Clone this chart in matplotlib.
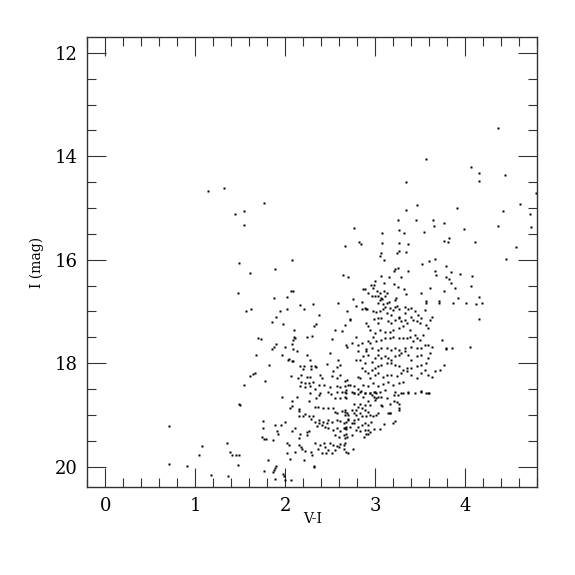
import numpy as np
import matplotlib
matplotlib.use("Agg")
import matplotlib.pyplot as plt
from matplotlib.ticker import MultipleLocator

vi_left = [1.32, 1.14, 1.54, 1.44, 1.545, 1.49, 1.48, 1.56, 1.54, 1.49, 1.50, 0.71, 1.07, 1.35,
           1.385, 1.41, 1.45, 1.49, 1.04, 0.71, 0.91, 1.48, 1.17, 1.36, 1.76]
i_left = [14.61, 14.68, 15.05, 15.11, 15.32, 16.07, 16.65, 16.99, 18.42, 18.78, 18.80, 19.21, 19.60, 19.55,
          19.72, 19.78, 19.78, 19.77, 19.78, 19.95, 19.99, 19.96, 20.16, 20.19, 14.91]

vi_mid_top = [2.67, 2.08, 1.61, 1.89, 2.64, 2.70, 2.06, 2.09, 1.87, 2.02, 2.31, 2.59, 2.16, 2.21, 1.62, 2.02]
i_mid_top = [15.73, 16.01, 16.25, 16.18, 16.29, 16.34, 16.60, 16.60, 16.74, 16.72, 16.86, 16.83, 16.88, 16.95, 16.95, 16.96]

vi_mid = [1.94, 2.37, 1.90, 1.85, 1.97, 2.34, 2.32, 2.69, 2.72, 2.67, 2.10, 2.55, 2.63, 2.10, 2.11, 2.24, 2.30,
          2.09, 2.52, 1.70, 1.73, 1.90, 1.88, 1.85, 2.00, 2.07, 2.09, 2.13, 1.96, 1.68, 2.24, 2.50, 2.04, 2.03,
          2.09, 2.07, 2.27, 2.69, 2.59, 1.82, 2.16, 2.21, 2.29, 2.33, 2.46, 2.58, 2.61, 2.29, 2.34, 2.20, 1.64,
          1.66, 1.61, 1.78, 2.06, 2.17, 2.14, 2.24, 2.27, 2.39, 2.41, 2.52, 2.53, 2.57, 2.61, 2.67, 2.69, 2.18,
          2.22, 2.26, 2.31, 2.37, 2.43, 2.22, 2.27, 2.33, 2.16, 2.50, 2.57, 2.61, 2.66, 2.70, 2.39, 2.48, 2.51,
          2.27, 2.57, 2.63, 2.68, 2.67]
i_mid = [17.00, 17.07, 17.11, 17.20, 17.24, 17.24, 17.28, 16.99, 17.16, 17.26, 17.36, 17.36, 17.38, 17.49, 17.51,
         17.49, 17.47, 17.55, 17.53, 17.52, 17.54, 17.63, 17.69, 17.73, 17.68, 17.63, 17.73, 17.76, 17.84, 17.85,
         17.84, 17.81, 17.91, 17.93, 17.96, 17.96, 17.93, 17.68, 17.94, 18.03, 18.05, 18.05, 18.05, 18.05, 18.02,
         18.07, 18.04, 18.11, 18.08, 18.12, 18.20, 18.18, 18.24, 18.34, 18.24, 18.23, 18.29, 18.26, 18.27, 18.23,
         18.28, 18.25, 18.16, 18.29, 18.23, 18.34, 18.32, 18.36, 18.39, 18.39, 18.37, 18.42, 18.42, 18.47, 18.45,
         18.49, 18.44, 18.47, 18.45, 18.47, 18.45, 18.42, 18.58, 18.56, 18.60, 18.57, 18.56, 18.56, 18.52, 18.56]

vi_low = [1.96, 2.13, 2.08, 2.08, 2.05, 2.15, 2.15, 2.26, 2.37, 2.34, 2.61, 2.55, 2.66, 2.33, 2.36, 2.42, 2.48,
          2.53, 2.55, 2.57, 2.63, 2.66, 2.66, 2.69, 2.22, 2.20, 2.26, 2.29, 2.31, 2.15, 2.33, 2.37, 2.38, 2.42,
          2.47, 2.52, 2.46, 2.57, 2.61, 2.65, 2.68, 2.70, 2.00, 1.95, 1.89, 1.75, 1.75, 1.91, 1.92, 2.11, 2.07,
          2.16, 2.24, 2.35, 2.41, 2.44, 2.48, 2.53, 2.57, 2.61, 2.65, 2.68, 2.55, 2.60, 2.65, 2.69, 2.15, 2.24,
          2.26, 1.74, 1.76, 1.79, 1.86, 2.02, 2.04, 2.15, 2.18, 2.33, 2.39, 2.43, 2.44, 2.50, 2.53, 2.57, 2.61,
          2.65, 2.19, 2.22, 2.29, 2.30, 2.36, 2.41, 2.45, 2.48, 2.52, 2.55, 2.60, 2.65, 2.70, 2.02, 2.11, 2.05,
          2.21, 2.32, 2.32, 1.81, 1.90, 1.89, 1.87, 1.86, 1.76, 1.89, 1.97, 1.99, 2.00, 2.06]
i_low = [18.65, 18.66, 18.73, 18.82, 18.87, 18.89, 18.93, 18.73, 18.62, 18.68, 18.68, 18.67, 18.65, 18.84, 18.85,
         18.86, 18.87, 18.87, 18.94, 18.97, 18.92, 18.91, 19.00, 18.97, 18.98, 19.03, 19.02, 19.07, 19.02, 19.02,
         19.13, 19.10, 19.16, 19.13, 19.10, 19.13, 19.16, 19.10, 19.11, 19.16, 19.13, 19.07, 19.13, 19.20, 19.20,
         19.12, 19.25, 19.31, 19.36, 19.26, 19.32, 19.36, 19.34, 19.21, 19.20, 19.24, 19.26, 19.29, 19.26, 19.32,
         19.26, 19.28, 19.39, 19.42, 19.39, 19.42, 19.45, 19.39, 19.32, 19.43, 19.47, 19.47, 19.49, 19.55, 19.58,
         19.58, 19.63, 19.55, 19.58, 19.54, 19.62, 19.55, 19.58, 19.60, 19.57, 19.58, 19.65, 19.69, 19.71, 19.78,
         19.65, 19.74, 19.73, 19.67, 19.74, 19.68, 19.63, 19.65, 19.73, 19.73, 19.71, 19.85, 19.87, 19.98, 20.00,
         19.87, 19.99, 20.02, 20.07, 20.11, 20.09, 20.24, 20.14, 20.18, 20.26, 20.26]

vi_rgb_top = [3.25, 3.45, 3.64, 3.76, 3.65, 2.77, 3.26, 3.32, 3.08, 3.54, 3.82, 3.77, 3.81, 2.82, 2.84, 3.08,
              3.27, 3.37, 3.26, 3.24, 3.34, 3.07, 3.05, 3.10, 3.66, 3.60, 3.52, 3.22, 3.21, 3.25, 3.37, 3.67,
              3.68, 3.84, 3.06, 3.15, 3.29, 3.79, 3.82, 3.84, 3.00, 2.95, 2.99, 3.10, 3.21, 3.25, 2.87, 2.89,
              2.98, 3.32, 3.61, 3.77, 3.89, 2.92, 3.02, 3.05, 3.10, 3.13, 3.51, 2.75, 2.85, 2.96, 3.00, 3.03,
              3.06, 3.05, 3.08, 3.11, 3.23, 3.22, 3.34, 3.15, 3.13, 3.03, 3.09, 2.79, 2.89, 2.91, 3.11, 3.16,
              3.09, 3.22, 3.27, 3.33, 3.37, 3.40, 3.57, 3.57, 3.71, 3.71, 3.87]
i_rgb_top = [15.23, 15.23, 15.24, 15.28, 15.35, 15.39, 15.43, 15.48, 15.48, 15.46, 15.57, 15.64, 15.66, 15.65,
             15.69, 15.67, 15.68, 15.70, 15.84, 15.86, 15.85, 15.87, 15.92, 16.01, 15.99, 16.03, 16.09, 16.17,
             16.22, 16.16, 16.21, 16.22, 16.30, 16.24, 16.31, 16.33, 16.33, 16.33, 16.37, 16.44, 16.42, 16.49,
             16.49, 16.44, 16.47, 16.52, 16.56, 16.56, 16.55, 16.57, 16.55, 16.60, 16.55, 16.64, 16.60, 16.64,
             16.60, 16.64, 16.65, 16.76, 16.81, 16.70, 16.70, 16.70, 16.73, 16.78, 16.76, 16.71, 16.73, 16.78,
             16.67, 16.82, 16.84, 16.84, 16.85, 16.89, 16.93, 16.96, 16.92, 16.94, 16.96, 16.92, 16.96, 16.91,
             16.95, 16.94, 16.80, 16.84, 16.80, 16.83, 16.83]

vi_rgb = [2.85, 2.90, 2.98, 3.01, 3.05, 3.20, 3.24, 3.33, 3.44, 3.55, 3.63, 3.61, 3.51, 3.48, 3.40, 3.27, 3.18,
          3.13, 3.03, 3.06, 2.99, 2.90, 2.92, 2.94, 3.03, 3.14, 3.18, 3.22, 3.26, 3.29, 3.33, 3.35, 3.42, 3.46,
          3.50, 3.57, 3.59, 3.39, 3.31, 3.26, 3.20, 3.16, 3.11, 3.05, 3.00, 2.98, 2.92, 2.94, 3.01, 3.06, 3.11,
          3.16, 3.20, 3.26, 3.31, 3.35, 3.39, 3.44, 3.46, 3.42, 3.50, 3.53, 3.55, 3.59, 3.63, 3.51, 3.46, 3.40,
          3.33, 3.27, 3.22, 3.18, 3.13, 3.07, 3.03, 2.96, 2.90, 2.90, 2.92, 2.87, 2.81, 2.79, 2.83, 2.89, 2.96,
          3.00, 3.03, 3.07, 3.11, 3.14, 3.18, 3.22, 3.26, 3.29, 3.33, 3.37, 3.40, 3.46, 3.51, 3.59, 3.61, 3.57,
          3.51, 3.46, 3.40, 3.35, 3.31, 3.26, 3.22, 3.18, 3.13, 3.07, 3.03, 3.00, 2.96, 2.92, 2.89, 2.85, 2.81,
          2.83, 2.94, 3.00, 3.03, 3.09, 3.13, 3.18, 3.24, 3.29, 3.35, 3.40, 3.46, 3.51, 3.55, 3.59, 3.63, 3.66,
          3.72, 3.77, 3.74, 3.79, 3.85, 3.31, 3.26, 3.20, 3.14, 3.09, 3.03, 2.98, 2.92, 2.87, 2.81, 2.76, 2.72,
          2.74, 2.77, 2.83, 2.89, 2.94, 3.00, 3.05, 3.11, 3.22, 3.29, 3.37, 3.44, 3.51, 3.59, 2.72, 2.68, 2.74,
          2.79, 2.81, 2.85]
i_rgb = [16.95, 16.95, 16.99, 17.01, 16.99, 16.97, 16.89, 17.03, 17.00, 16.97, 17.10, 17.16, 17.13, 17.07, 17.10,
         17.10, 17.07, 17.03, 17.12, 17.13, 17.14, 17.23, 17.29, 17.35, 17.23, 17.19, 17.23, 17.16, 17.13, 17.19,
         17.16, 17.23, 17.16, 17.19, 17.23, 17.26, 17.32, 17.35, 17.29, 17.32, 17.35, 17.39, 17.40, 17.35, 17.42,
         17.49, 17.57, 17.61, 17.58, 17.55, 17.52, 17.52, 17.49, 17.52, 17.52, 17.52, 17.49, 17.45, 17.52, 17.57,
         17.55, 17.45, 17.65, 17.65, 17.68, 17.71, 17.70, 17.68, 17.71, 17.74, 17.71, 17.74, 17.71, 17.70, 17.74,
         17.71, 17.73, 17.77, 17.84, 17.87, 17.77, 17.94, 17.94, 18.00, 17.97, 17.90, 17.84, 17.90, 17.87, 17.90,
         17.94, 17.87, 17.84, 17.81, 17.77, 17.84, 17.94, 17.87, 17.84, 17.90, 17.81, 18.00, 18.03, 18.06, 18.10,
         18.10, 18.13, 18.06, 18.03, 18.00, 18.00, 18.03, 18.06, 18.10, 18.13, 18.19, 18.16, 18.10, 18.26, 18.29,
         18.29, 18.23, 18.19, 18.26, 18.23, 18.23, 18.24, 18.19, 18.16, 18.23, 18.29, 18.19, 18.13, 18.23, 18.26,
         18.16, 18.13, 18.03, 17.55, 17.71, 17.70, 18.36, 18.39, 18.42, 18.36, 18.41, 18.45, 18.39, 18.45, 18.42,
         18.49, 18.45, 18.42, 18.55, 18.58, 18.56, 18.58, 18.58, 18.56, 18.55, 18.52, 18.55, 18.58, 18.56, 18.58,
         18.55, 18.58, 17.14, 17.65, 17.61, 17.49, 17.65, 17.61]

vi_rgb_low = [2.68, 2.76, 2.81, 2.84, 2.89, 2.94, 2.96, 2.99, 3.01, 2.99, 3.01, 3.03, 3.07, 3.13, 3.16, 3.21,
              3.25, 3.31, 3.37, 3.51, 3.56, 3.60, 2.87, 2.68, 2.92, 2.89, 2.94, 3.00, 2.77, 2.81, 2.83, 2.85,
              2.79, 2.74, 2.70, 2.66, 2.76, 2.79, 2.83, 2.81, 2.77, 2.85, 2.89, 2.92, 2.90, 2.94, 2.98, 3.01,
              3.03, 3.07, 3.08, 3.14, 3.16, 3.17, 3.21, 3.24, 3.26, 3.26, 3.27, 2.70, 2.74, 2.72, 2.68, 2.66,
              2.77, 2.81, 2.85, 2.89, 2.92, 2.95, 2.79, 2.83, 2.89, 2.90, 2.94, 2.92, 2.99, 3.05, 3.10, 3.20,
              3.22, 2.68, 2.66, 2.74, 2.66, 2.68, 2.75, 2.88, 2.92]
i_rgb_low = [18.57, 18.57, 18.60, 18.54, 18.57, 18.58, 18.61, 18.55, 18.57, 18.66, 18.68, 18.65, 18.65, 18.68,
             18.78, 18.61, 18.61, 18.58, 18.57, 18.53, 18.57, 18.58, 18.66, 18.68, 18.74, 18.81, 18.81, 18.72,
             18.79, 18.84, 18.78, 18.87, 18.91, 18.91, 19.00, 18.94, 18.97, 19.00, 18.96, 19.07, 19.10, 19.03,
             18.91, 18.94, 19.03, 19.00, 19.03, 19.00, 18.97, 18.81, 18.83, 18.97, 18.96, 18.96, 18.74, 18.76,
             18.79, 18.87, 18.91, 19.10, 19.16, 19.23, 19.23, 19.26, 19.16, 19.23, 19.20, 19.16, 19.20, 19.13,
             19.29, 19.32, 19.29, 19.36, 19.34, 19.29, 19.28, 19.28, 19.18, 19.15, 19.12, 19.36, 19.45, 19.39,
             19.55, 19.71, 19.65, 19.42, 19.37]

vi_red = [4.37, 4.07, 4.16, 4.15, 4.44, 4.79, 3.91, 4.42, 4.61, 4.72, 4.73, 4.37, 3.99, 4.11, 4.57, 4.45, 3.79,
          3.94, 4.08, 4.06, 3.92, 4.15, 4.01, 4.12, 4.19, 4.15, 3.79, 4.05, 3.57, 3.34, 3.46, 3.34]
i_red = [13.45, 14.21, 14.32, 14.47, 14.37, 14.70, 15.00, 15.06, 14.92, 15.12, 15.37, 15.34, 15.41, 15.66, 15.75,
         15.99, 16.12, 16.28, 16.32, 16.50, 16.74, 16.72, 16.83, 16.86, 16.83, 17.14, 17.72, 17.69, 14.06, 14.50,
         14.94, 15.04]

vi = np.concatenate([vi_left, vi_mid_top, vi_mid, vi_low, vi_rgb_top, vi_rgb, vi_rgb_low, vi_red])
imag = np.concatenate([i_left, i_mid_top, i_mid, i_low, i_rgb_top, i_rgb, i_rgb_low, i_red])

plt.rcParams['font.family'] = 'DejaVu Serif'

fig = plt.figure(figsize=(5.75, 5.75), dpi=100)
ax = fig.add_axes([0.152, 0.1525, 0.782, 0.7825])

ax.plot(vi, imag, 's', ms=1.6, color='black', mec='none')

ax.set_xlim(-0.2, 4.8)
ax.set_ylim(20.4, 11.7)
ax.xaxis.set_major_locator(MultipleLocator(1))
ax.xaxis.set_minor_locator(MultipleLocator(0.2))
ax.yaxis.set_major_locator(MultipleLocator(2))
ax.yaxis.set_minor_locator(MultipleLocator(0.5))
ax.tick_params(which='both', direction='in', top=True, right=True, width=0.8, color='#333333')
ax.tick_params(which='major', length=13.5, labelsize=13, pad=7)
ax.tick_params(which='minor', length=6.5)
for s in ax.spines.values():
    s.set_linewidth(1.0)
    s.set_color('#333333')

ax.set_xlabel('V-I', fontsize=10, labelpad=-2)
ax.set_ylabel('I (mag)', fontsize=10, labelpad=8)

fig.savefig('out.png', dpi=100)
